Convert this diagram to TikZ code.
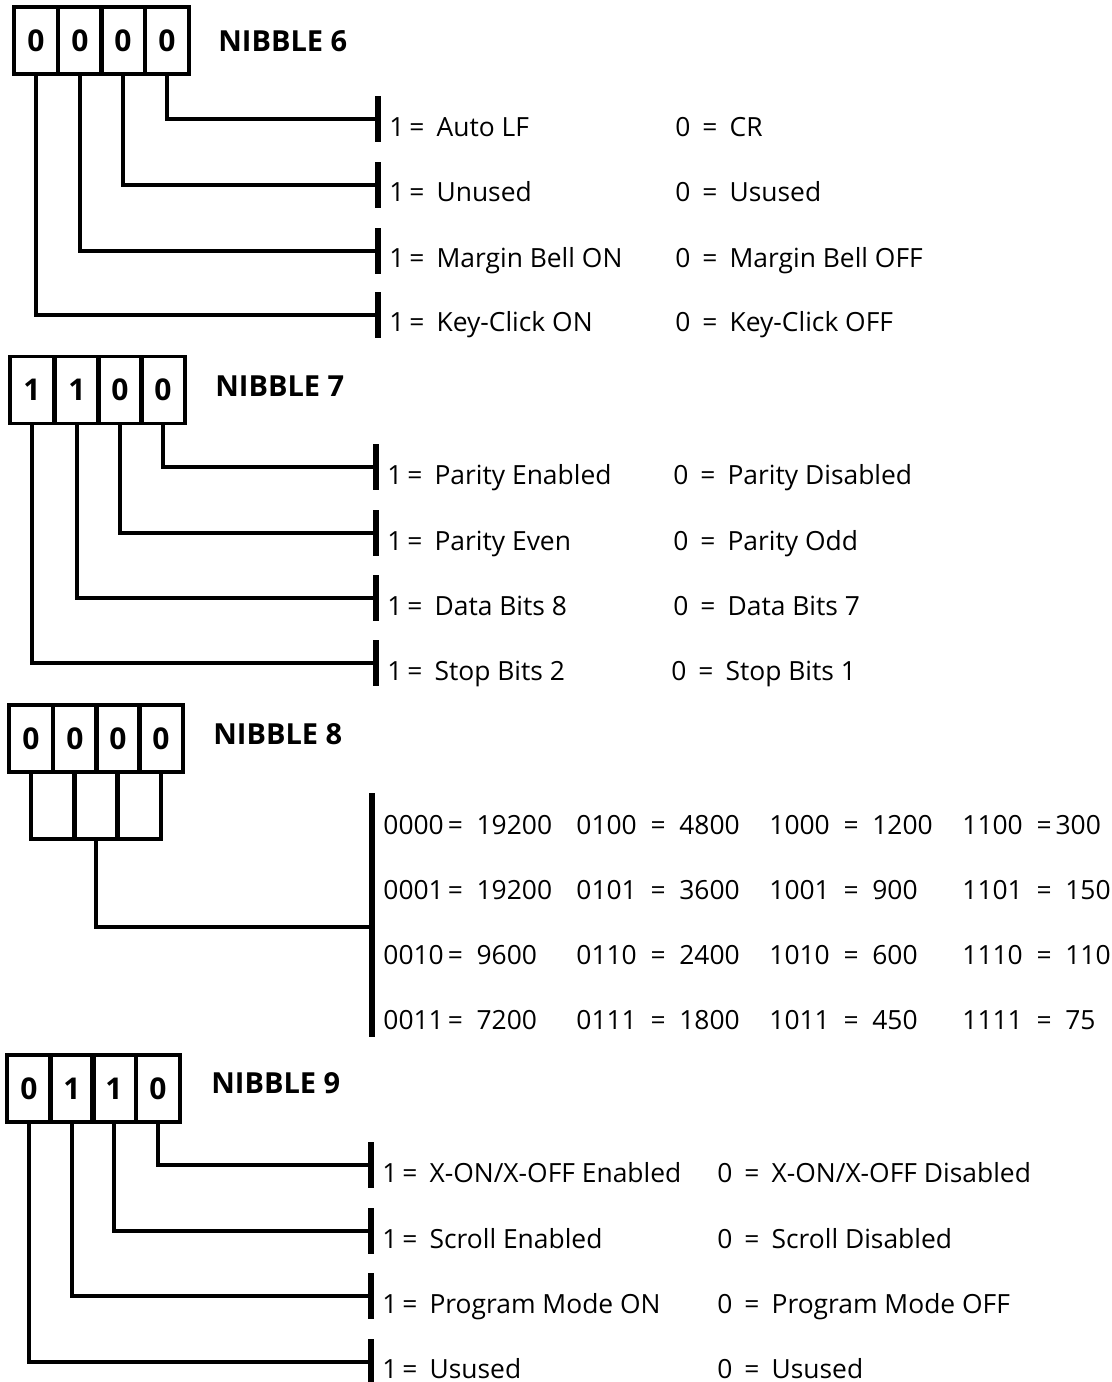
\documentclass[tikz,border=0pt]{standalone}
\usepackage{fontspec}
\setmainfont{Open Sans}

\newcommand{\oneis}{1\hspace{2.5pt}=\hspace{6pt}}
\newcommand{\zerois}{0\hspace{6pt}=\hspace{6pt}}

\begin{document}
\begin{tikzpicture}[x=0.5pt,y=-0.5pt,
    cell/.style={draw,line width=1.8pt,minimum width=22pt,minimum height=33.5pt,
                 inner sep=0pt,font=\fontsize{15}{15}\selectfont\bfseries},
    nibtitle/.style={anchor=base west,inner sep=0pt,font=\fontsize{14.5}{15}\selectfont\bfseries},
    lbl/.style={anchor=base west,inner sep=0pt,font=\fontsize{13.2}{15}\selectfont},
    stub/.style={fill=black,inner sep=0pt,minimum width=2.6pt,minimum height=23pt},
    lead/.style={line width=1.8pt}]
\useasboundingbox (0,0) rectangle (1112,1382);

% nibble 6
\begin{scope}
    \node[cell] (n6a) at (36,40.5) {0};
    \node[cell] (n6b) at (80,40.5) {0};
    \node[cell] (n6c) at (123,40.5) {0};
    \node[cell] (n6d) at (167,40.5) {0};
    \node[nibtitle] (t6) at (218,51) {NIBBLE 6};
    \node[stub] (b6a) at (378,119) {};
    \node[stub] (b6b) at (378,185) {};
    \node[stub] (b6c) at (378,251) {};
    \node[stub] (b6d) at (378,315) {};
    \draw[lead] (n6d.south) |- (b6a.west);
    \draw[lead] (n6c.south) |- (b6b.west);
    \draw[lead] (n6b.south) |- (b6c.west);
    \draw[lead] (n6a.south) |- (b6d.west);
    \node[lbl] (p6a) at (389,136) {\oneis Auto LF};
    \node[lbl] (p6b) at (389,201) {\oneis Unused};
    \node[lbl] (p6c) at (389,267) {\oneis Margin Bell ON};
    \node[lbl] (p6d) at (389,331) {\oneis Key-Click ON};
    \node[lbl] (z6a) at (675,136) {\zerois CR};
    \node[lbl] (z6b) at (675,201) {\zerois Usused};
    \node[lbl] (z6c) at (675,267) {\zerois Margin Bell OFF};
    \node[lbl] (z6d) at (675,331) {\zerois Key-Click OFF};
\end{scope}

% nibble 7
\begin{scope}
    \node[cell] (n7a) at (32,390) {1};
    \node[cell] (n7b) at (77,390) {1};
    \node[cell] (n7c) at (120,390) {0};
    \node[cell] (n7d) at (163,390) {0};
    \node[nibtitle] (t7) at (215,396) {NIBBLE 7};
    \node[stub] (b7a) at (376,467) {};
    \node[stub] (b7b) at (376,533) {};
    \node[stub] (b7c) at (376,598) {};
    \node[stub] (b7d) at (376,663) {};
    \draw[lead] (n7d.south) |- (b7a.west);
    \draw[lead] (n7c.south) |- (b7b.west);
    \draw[lead] (n7b.south) |- (b7c.west);
    \draw[lead] (n7a.south) |- (b7d.west);
    \node[lbl] (p7a) at (387,484) {\oneis Parity Enabled};
    \node[lbl] (p7b) at (387,550) {\oneis Parity Even};
    \node[lbl] (p7c) at (387,615) {\oneis Data Bits 8};
    \node[lbl] (p7d) at (387,680) {\oneis Stop Bits 2};
    \node[lbl] (z7a) at (673,484) {\zerois Parity Disabled};
    \node[lbl] (z7b) at (673,550) {\zerois Parity Odd};
    \node[lbl] (z7c) at (673,615) {\zerois Data Bits 7};
    \node[lbl] (z7d) at (671,680) {\zerois Stop Bits 1};
\end{scope}

% nibble 8
\begin{scope}
    \node[cell] (n8a) at (31,738.5) {0};
    \node[cell] (n8b) at (75,738.5) {0};
    \node[cell] (n8c) at (118,738.5) {0};
    \node[cell] (n8d) at (161,738.5) {0};
    \node[cell] (m8a) at (53,805.5) {};
    \node[cell] (m8b) at (96,805.5) {};
    \node[cell] (m8c) at (139,805.5) {};
    \node[nibtitle] (t8) at (213,744) {NIBBLE 8};
    \node[stub,minimum height=122pt] (b8) at (372,915) {};
    \coordinate (j8) at (372,927);
    \draw[lead] (m8b.south) |- (j8);
    \node[lbl] (r8a) at (383,834) {0000\hspace{2pt}=\ \ 19200};
    \node[lbl] (r8b) at (383,899) {0001\hspace{2pt}=\ \ 19200};
    \node[lbl] (r8c) at (383,964) {0010\hspace{2pt}=\ \ 9600};
    \node[lbl] (r8d) at (383,1029) {0011\hspace{2pt}=\ \ 7200};
    \node[lbl] (s8a) at (576,834) {0100\ \ =\ \ 4800};
    \node[lbl] (s8b) at (576,899) {0101\ \ =\ \ 3600};
    \node[lbl] (s8c) at (576,964) {0110\ \ =\ \ 2400};
    \node[lbl] (s8d) at (576,1029) {0111\ \ =\ \ 1800};
    \node[lbl] (u8a) at (769,834) {1000\ \ =\ \ 1200};
    \node[lbl] (u8b) at (769,899) {1001\ \ =\ \ 900};
    \node[lbl] (u8c) at (769,964) {1010\ \ =\ \ 600};
    \node[lbl] (u8d) at (769,1029) {1011\ \ =\ \ 450};
    \node[lbl] (v8a) at (962,834) {1100\ \ =\hspace{2pt}300};
    \node[lbl] (v8b) at (962,899) {1101\ \ =\ \ 150};
    \node[lbl] (v8c) at (962,964) {1110\ \ =\ \ 110};
    \node[lbl] (v8d) at (962,1029) {1111\ \ =\ \ 75};
\end{scope}

% nibble 9
\begin{scope}
    \node[cell] (n9a) at (29,1088.5) {0};
    \node[cell] (n9b) at (72,1088.5) {1};
    \node[cell] (n9c) at (114,1088.5) {1};
    \node[cell] (n9d) at (158,1088.5) {0};
    \node[nibtitle] (t9) at (211,1093) {NIBBLE 9};
    \node[stub] (b9a) at (371,1165) {};
    \node[stub] (b9b) at (371,1231) {};
    \node[stub] (b9c) at (371,1296) {};
    \node[stub] (b9d) at (371,1362) {};
    \draw[lead] (n9d.south) |- (b9a.west);
    \draw[lead] (n9c.south) |- (b9b.west);
    \draw[lead] (n9b.south) |- (b9c.west);
    \draw[lead] (n9a.south) |- (b9d.west);
    \node[lbl] (p9a) at (382,1182) {\oneis X-ON/X-OFF Enabled};
    \node[lbl] (p9b) at (382,1248) {\oneis Scroll Enabled};
    \node[lbl] (p9c) at (382,1313) {\oneis Program Mode ON};
    \node[lbl] (p9d) at (382,1378) {\oneis Usused};
    \node[lbl] (z9a) at (717,1182) {\zerois X-ON/X-OFF Disabled};
    \node[lbl] (z9b) at (717,1248) {\zerois Scroll Disabled};
    \node[lbl] (z9c) at (717,1313) {\zerois Program Mode OFF};
    \node[lbl] (z9d) at (717,1378) {\zerois Usused};
\end{scope}
\end{tikzpicture}
\end{document}
